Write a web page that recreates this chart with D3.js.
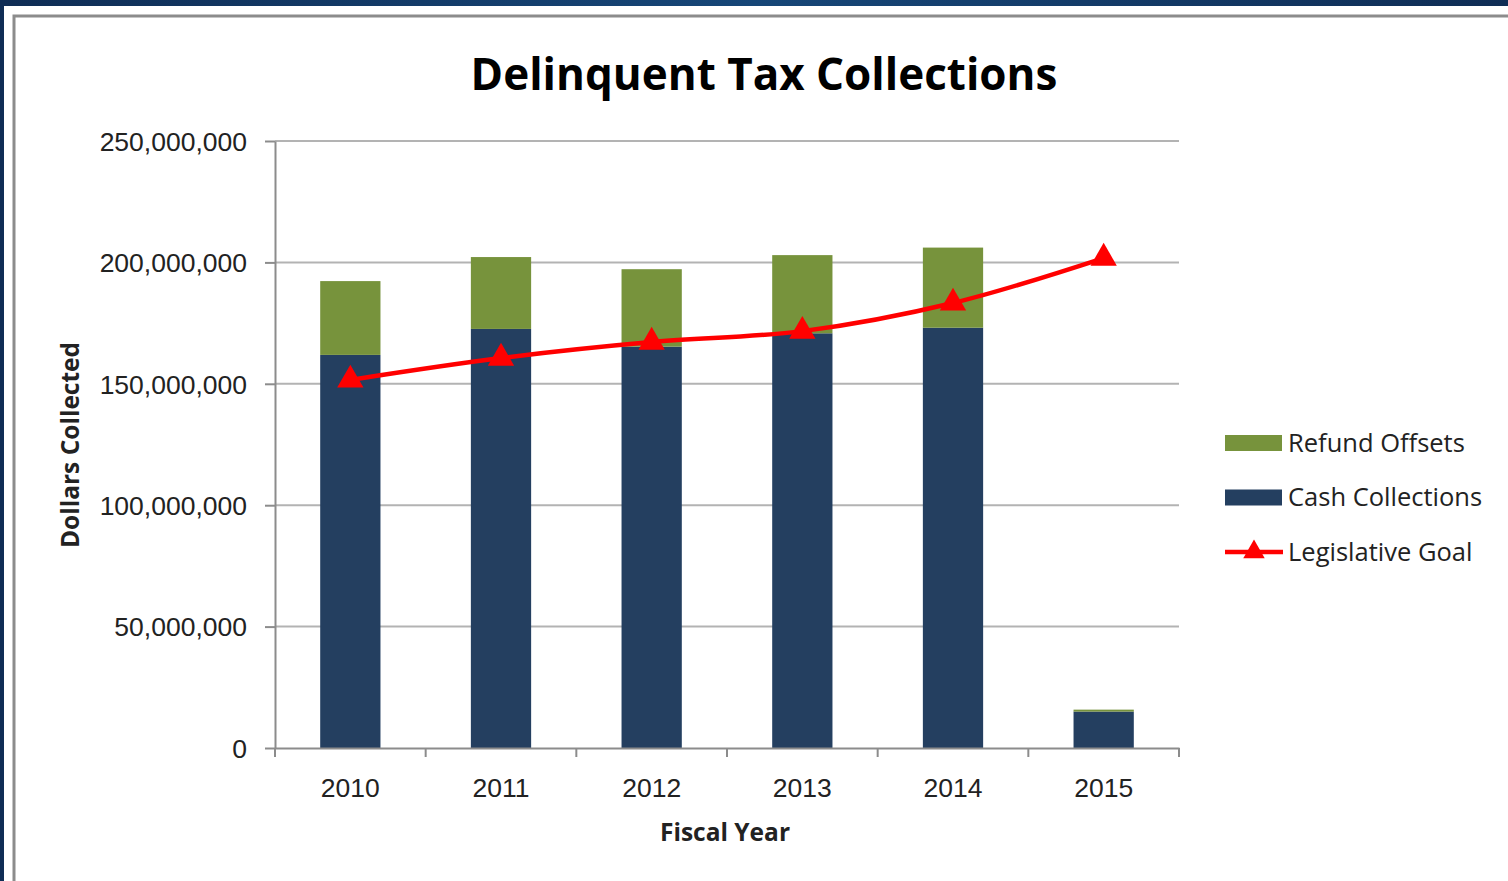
<!DOCTYPE html>
<html lang="en">
<head>
<meta charset="UTF-8">
<script src="https://d3js.org/d3.v7.min.js"></script>
<title>Delinquent Tax Collections</title>
<style>
  body { margin: 0; background: #143f6c; }
  svg { display: block; font-family: "Open Sans", sans-serif; }
  .grid line { stroke: #b3b3b3; stroke-width: 2; }
  .axis path, .axis line { stroke: #8c8c8c; stroke-width: 2; }
  .axis text { font-size: 26.5px; fill: #222; }
</style>
</head>
<body>
<div id="chart"></div>
<script>
// data
var years = ["2010", "2011", "2012", "2013", "2014", "2015"];
var cash = [161900000, 172600000, 165300000, 170800000, 173100000, 15000000];
var refunds = [30400000, 29600000, 31900000, 32200000, 33000000, 800000];
var goal = [151600000, 160600000, 167200000, 171700000, 183300000, 201800000];
var yTicks = [0, 50000000, 100000000, 150000000, 200000000, 250000000];

var W = 1508, H = 881;
var margin = {top: 141, left: 275, right: 329, bottom: 133};
var width = W - margin.left - margin.right,
    height = H - margin.top - margin.bottom;

var svg = d3.select("#chart").append("svg")
    .attr("width", W)
    .attr("height", H);

// frame background
var grad = svg.append("defs").append("linearGradient")
    .attr("id", "bg").attr("x1", 0).attr("x2", 1).attr("y1", 0).attr("y2", 0);
grad.append("stop").attr("offset", "0%").attr("stop-color", "#0f2d55");
grad.append("stop").attr("offset", "50%").attr("stop-color", "#164677");
grad.append("stop").attr("offset", "100%").attr("stop-color", "#0f2d55");
svg.append("rect").attr("width", W).attr("height", H).attr("fill", "url(#bg)");
svg.append("rect").attr("x", 4).attr("y", 6).attr("width", W).attr("height", H).attr("fill", "#fff");
svg.append("rect").attr("x", 14).attr("y", 16).attr("width", W).attr("height", H)
    .attr("fill", "none").attr("stroke", "#8c8c8c").attr("stroke-width", 3);

var g = svg.append("g").attr("transform", "translate(" + margin.left + "," + margin.top + ")");

var x = d3.scaleBand().domain(years).range([0, width]).paddingInner(0.6).paddingOuter(0.3);
var y = d3.scaleLinear().domain([0, 250000000]).range([height, 0]);

// gridlines
g.append("g").attr("class", "grid")
  .selectAll("line").data(yTicks.slice(1)).enter().append("line")
    .attr("x1", 0).attr("x2", width)
    .attr("y1", function(d) { return y(d); })
    .attr("y2", function(d) { return y(d); });

// stacked bars
var rows = years.map(function(yr, i) { return {year: yr, cash: cash[i], refunds: refunds[i]}; });
var stack = d3.stack().keys(["cash", "refunds"])(rows);
var colors = {cash: "#243f60", refunds: "#77933c"};

g.selectAll(".layer").data(stack).enter().append("g")
    .attr("class", "layer")
    .attr("fill", function(d) { return colors[d.key]; })
  .selectAll("rect").data(function(d) { return d; }).enter().append("rect")
    .attr("x", function(d) { return x(d.data.year); })
    .attr("width", x.bandwidth())
    .attr("y", function(d) { return y(d[1]); })
    .attr("height", function(d) { return y(d[0]) - y(d[1]); });

// axes
var yAxis = g.append("g").attr("class", "axis")
    .call(d3.axisLeft(y).tickValues(yTicks).tickSize(10).tickSizeOuter(0).tickPadding(18)
      .tickFormat(d3.format(",")));
yAxis.selectAll("text").attr("dy", "0.35em");

var xAxis = g.append("g").attr("class", "axis")
    .attr("transform", "translate(0," + height + ")")
    .call(d3.axisBottom(x).tickSize(0).tickPadding(40));
xAxis.selectAll(".tick text").attr("dy", "0.35em");
xAxis.selectAll(".boundary").data(d3.range(years.length + 1)).enter().append("line")
    .attr("class", "boundary")
    .attr("x1", function(i) { return i * width / years.length; })
    .attr("x2", function(i) { return i * width / years.length; })
    .attr("y1", 0).attr("y2", 9);

// goal line
var line = d3.line()
    .x(function(d, i) { return x(years[i]) + x.bandwidth() / 2; })
    .y(function(d) { return y(d); })
    .curve(d3.curveCatmullRom.alpha(0.5));

g.append("path").datum(goal)
    .attr("fill", "none")
    .attr("stroke", "#ff0000")
    .attr("stroke-width", 4.5)
    .attr("d", line);

var tri = d3.symbol().type(d3.symbolTriangle).size(300);
g.selectAll(".marker").data(goal).enter().append("path")
    .attr("class", "marker")
    .attr("fill", "#ff0000")
    .attr("d", tri)
    .attr("transform", function(d, i) {
      return "translate(" + (x(years[i]) + x.bandwidth() / 2) + "," + y(d) + ")";
    });

// titles
svg.append("text")
    .attr("x", 764).attr("y", 90)
    .attr("text-anchor", "middle")
    .style("font-size", "44px").style("font-weight", "bold").style("fill", "#000")
    .text("Delinquent Tax Collections");

svg.append("text")
    .attr("x", 725).attr("y", 841)
    .attr("text-anchor", "middle")
    .style("font-size", "24.5px").style("font-weight", "bold").style("fill", "#222")
    .text("Fiscal Year");

svg.append("text")
    .attr("transform", "translate(79,445) rotate(-90)")
    .attr("text-anchor", "middle")
    .style("font-size", "24.5px").style("font-weight", "bold").style("fill", "#222")
    .text("Dollars Collected");

// legend
var legendItems = [
  {name: "Refund Offsets", type: "bar", color: colors.refunds},
  {name: "Cash Collections", type: "bar", color: colors.cash},
  {name: "Legislative Goal", type: "line", color: "#ff0000"}
];
var legend = svg.selectAll(".legend").data(legendItems).enter().append("g")
    .attr("class", "legend")
    .attr("transform", function(d, i) { return "translate(1225," + (443 + i * 54.5) + ")"; });

legend.filter(function(d) { return d.type === "bar"; }).append("rect")
    .attr("x", 0).attr("y", -8).attr("width", 57).attr("height", 16)
    .attr("fill", function(d) { return d.color; });
var lg = legend.filter(function(d) { return d.type === "line"; });
lg.append("line").attr("x1", 0).attr("x2", 58).attr("y1", 0).attr("y2", 0)
    .attr("stroke", "#ff0000").attr("stroke-width", 4.5);
lg.append("path").attr("d", d3.symbol().type(d3.symbolTriangle).size(200))
    .attr("transform", "translate(29,0)").attr("fill", "#ff0000");

legend.append("text")
    .attr("x", 63).attr("dy", "0.35em")
    .style("font-size", "25.5px").style("fill", "#222")
    .text(function(d) { return d.name; });
</script>
</body>
</html>
